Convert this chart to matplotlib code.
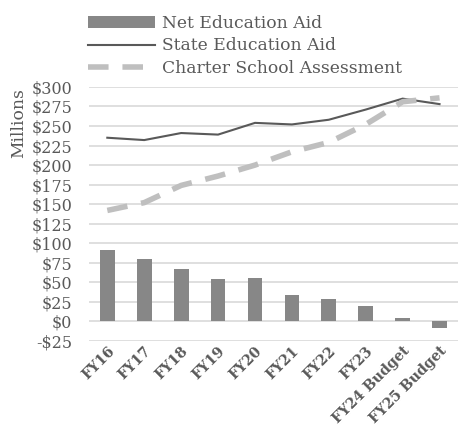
import matplotlib
matplotlib.use("Agg")
import matplotlib.pyplot as plt
import numpy as np

years = ["FY16", "FY17", "FY18", "FY19", "FY20", "FY21", "FY22", "FY23",
         "FY24 Budget", "FY25 Budget"]
net_aid = [92, 80, 67, 54, 55, 34, 28.5, 20, 4.5, -8.5]
state_aid = [235, 232, 241, 239, 254, 252, 258, 271, 285, 278]
charter = [142, 152, 174, 186, 200, 217, 229, 252, 281, 286]
yticks = list(range(-25, 301, 25))

plt.rcParams['font.family'] = ['DejaVu Serif']
text_col = '#595959'

fig = plt.figure(figsize=(4.58, 4.26), dpi=100)
ax = fig.add_axes([0.194, 0.1995, 0.806, 0.5965])

x = np.arange(len(years))
bars = ax.bar(x, net_aid, width=0.4, color='#878787', label='Net Education Aid', zorder=2)
l1, = ax.plot(x, state_aid, color='#595959', lw=1.5, label='State Education Aid', zorder=3)
l2, = ax.plot(x, charter, color='#BFBFBF', lw=4, dashes=(3.7, 2.5),
              label='Charter School Assessment', zorder=3)

ax.set_xlim(-0.5, len(years) - 0.5)
ax.set_ylim(-25, 300)
ax.set_yticks(yticks)
ax.set_yticklabels([f"-${-v}" if v < 0 else f"${v}" for v in yticks])
ax.grid(axis='y', color='#D9D9D9', lw=1.2, zorder=0)
ax.set_axisbelow(True)
for s in ax.spines.values():
    s.set_visible(False)
ax.tick_params(axis='y', length=0, labelsize=11.5, colors=text_col, pad=12)
ax.tick_params(axis='x', length=0, colors=text_col, pad=2)
ax.set_xticks(x)
ax.set_xticklabels(years, rotation=45, ha='right', rotation_mode='anchor',
                   fontweight='bold', fontsize=10.2, color=text_col)

fig.text(0.04, 0.792, "Millions", rotation=90, ha='center', va='top',
         fontsize=12.3, color=text_col)

fig.legend([bars, l1, l2],
           ['Net Education Aid', 'State Education Aid', 'Charter School Assessment'],
           loc='upper left', bbox_to_anchor=(0.17, 0.99), frameon=False,
           fontsize=12.3, handlelength=3.9, labelspacing=0.35, handletextpad=0.45,
           labelcolor=text_col, borderaxespad=0.2)

fig.savefig("out.png", dpi=100)
